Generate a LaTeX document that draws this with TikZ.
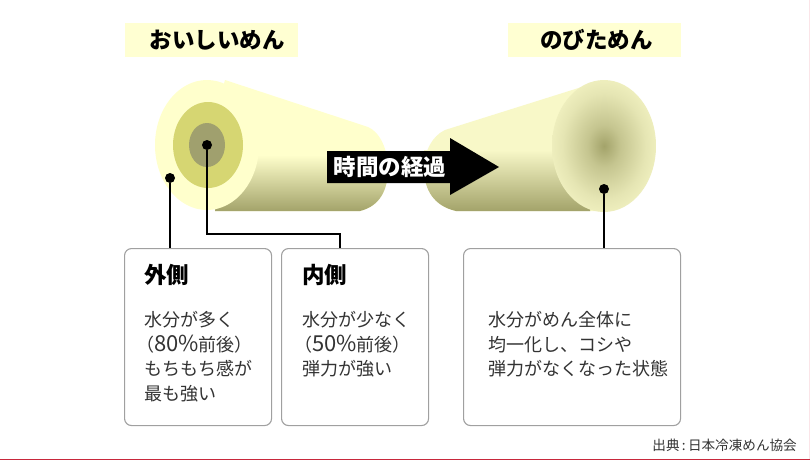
\documentclass[tikz,border=0pt]{standalone}
\usepackage{fontspec}
\setmainfont{Noto Sans CJK JP}
\usepackage{xcolor}
\usetikzlibrary{positioning,shapes.geometric}
\definecolor{noodle}{HTML}{FFFFCC}
\definecolor{noodleb}{HTML}{F8F8C8}
\definecolor{noodledark}{HTML}{A3A36A}
\definecolor{ringmid}{HTML}{D6D672}
\definecolor{ringin}{HTML}{A0A06E}
\definecolor{titlebg}{HTML}{FFFFD2}
\definecolor{boxline}{HTML}{A0A0A0}
\definecolor{bodytext}{HTML}{333333}
\definecolor{edgered}{HTML}{C8283C}
\definecolor{edgepink}{HTML}{FBE4E8}
\pgfdeclareradialshading{noodleend}{\pgfpointorigin}{color(0bp)=(noodledark); color(8bp)=(noodledark!60!noodleb); color(20bp)=(noodledark!22!noodleb); color(31bp)=(noodleb); color(50bp)=(noodleb)}
\newcommand{\pct}[1]{{\fontsize{22}{24.5}\selectfont #1\%}}
\tikzset{title/.style={fill=titlebg,minimum width=173pt,minimum height=34pt,inner sep=0pt,font=\fontsize{22.5}{22.5}\selectfont\bfseries},
  infobox/.style={draw=boxline,line width=1.1pt,rounded corners=7pt,fill=white,anchor=north west,inner sep=0pt},
  dot/.style={circle,fill=black,minimum size=10pt,inner sep=0pt},
  lead/.style={draw=black,line width=2pt},
  head/.style={anchor=west,inner sep=0pt,font=\fontsize{22.5}{22.5}\selectfont\bfseries},
  body/.style={anchor=north west,inner sep=0pt,align=left,text=bodytext,font=\fontsize{18}{24.5}\selectfont}}

\begin{document}
\begin{tikzpicture}[x=1pt,y=-1pt,>=stealth]
    \useasboundingbox (0,0) rectangle (810,460);
    \fill[white] (0,0) rectangle (810,460);
    \fill[edgepink] (808.5,0) rectangle (810,460);
    \fill[edgered] (0,459) rectangle (810,460);

    \node[title] (tl) at (211.5,40) {\hspace*{11pt}おいしいめん};
    \node[title] (tr) at (594.5,40) {\hspace*{4pt}のびためん};

    % left noodle
    \fill[noodle] (225,80) -- (368,127) .. controls (380,132) and (388,150) .. (388,168)
        .. controls (388,190) and (380,206) .. (360,211) -- (215,211) -- (207,145) -- cycle;
    \shade[top color=noodle,bottom color=noodledark] (225,155) -- (388,155) -- (388,168)
        .. controls (388,190) and (380,206) .. (360,211) -- (215,211) -- cycle;
    \fill[noodle] (207,145) ellipse [x radius=52,y radius=65];
    \fill[ringmid] (208,145) ellipse [x radius=35,y radius=43];
    \fill[ringin] (207,145) ellipse [x radius=18,y radius=22];

    % right noodle
    \fill[noodleb] (604,80) -- (445,130) .. controls (432,136) and (424,152) .. (424,168)
        .. controls (424,190) and (434,206) .. (456,211) -- (604,211) -- cycle;
    \shade[top color=noodleb,bottom color=noodledark] (424,150) -- (590,150) -- (590,211) -- (456,211)
        .. controls (434,206) and (424,190) .. (424,168) -- cycle;
    \shade[shading=noodleend] (604,146) ellipse [x radius=52,y radius=66];

    % arrow
    \fill[black] (327,151) -- (450,151) -- (450,138) -- (499,167) -- (450,195) -- (450,183) -- (327,183) -- cycle;
    \node[text=white,font=\fontsize{22.5}{22.5}\selectfont\bfseries,inner sep=0pt] (keika) at (390,167) {時間の経過};

    \node[infobox,minimum width=147pt,minimum height=177pt] (soto) at (124,248) {};
    \node[infobox,minimum width=147pt,minimum height=177pt] (uchi) at (281,248) {};
    \node[infobox,minimum width=217pt,minimum height=177pt] (nobi) at (463,248) {};

    \node[head] (sotoh) at (144,275) {外側};
    \node[head] (uchih) at (302,275) {内側};
    \node[body] (sotob) at (144,311.5) {水分が多く\\\hspace*{-8pt}（\pct{80}前後）\\もちもち感が\\最も強い};
    \node[body] (uchib) at (302,311.5) {水分が少なく\\\hspace*{-8pt}（\pct{50}前後）\\弾力が強い};
    \node[body] (nobib) at (488,311.5) {水分がめん全体に\\均一化し、コシや\\弾力がなくなった状態};
    \node[anchor=east,text=bodytext,font=\fontsize{13.6}{13.6}\selectfont,inner sep=0pt] (src) at (797,445) {出典\,:\,日本冷凍めん協会};

    \node[dot] (dsoto) at (170,178) {};
    \node[dot] (duchi) at (207,145) {};
    \node[dot] (dnobi) at (604,189) {};
    \coordinate (kink) at (340,234);

    \draw [lead] (dsoto) to [] (dsoto |- soto.north);
    \draw [lead] (duchi) |- (kink) to [] (kink |- uchi.north);
    \draw [lead] (dnobi) to [] (dnobi |- nobi.north);
\end{tikzpicture}
\end{document}
